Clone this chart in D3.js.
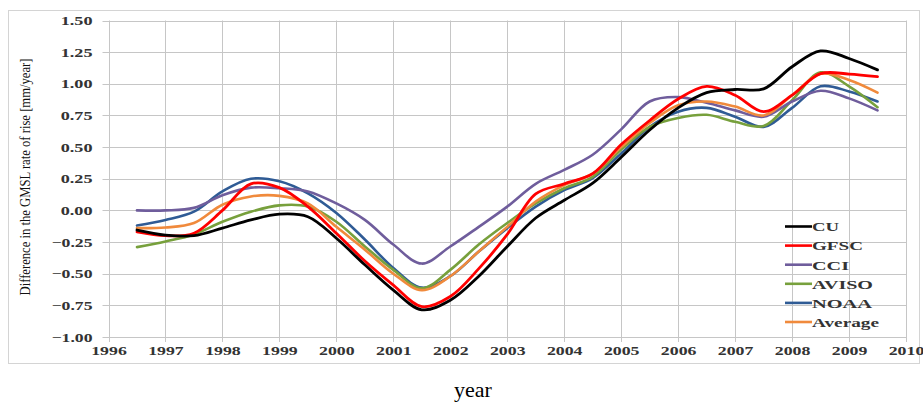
<!DOCTYPE html>
<html>
<head>
<meta charset="utf-8">
<script src="https://cdn.jsdelivr.net/npm/d3@7/dist/d3.min.js"></script>
<style>
  html, body { margin: 0; padding: 0; background: #fff; }
  svg { display: block; }
</style>
</head>
<body>
<svg id="chart" width="923" height="403"></svg>
<script>
// ---- data ----
const years = [1996.5, 1997, 1997.5, 1998, 1998.5, 1999, 1999.5, 2000, 2000.5, 2001, 2001.5, 2002, 2002.5,
  2003, 2003.5, 2004, 2004.5, 2005, 2005.5, 2006, 2006.5, 2007, 2007.5, 2008, 2008.5, 2009, 2009.5];

const seriesNames = ["CU", "GFSC", "CCI", "AVISO", "NOAA", "Average"];

const cu      = [-0.155, -0.195, -0.20, -0.14, -0.075, -0.03, -0.05, -0.22, -0.43, -0.63, -0.785, -0.71, -0.52,
  -0.285, -0.06, 0.08, 0.215, 0.42, 0.635, 0.81, 0.93, 0.955, 0.96, 1.135, 1.26, 1.20, 1.11];
const gfsc    = [-0.17, -0.20, -0.18, 0.0, 0.21, 0.18, 0.03, -0.18, -0.40, -0.59, -0.76, -0.68, -0.46,
  -0.19, 0.13, 0.21, 0.29, 0.52, 0.71, 0.88, 0.98, 0.91, 0.78, 0.91, 1.08, 1.077, 1.056];
const cci     = [0.0, 0.0, 0.02, 0.12, 0.18, 0.175, 0.15, 0.055, -0.075, -0.27, -0.42, -0.285, -0.13,
  0.03, 0.21, 0.32, 0.44, 0.64, 0.86, 0.895, 0.85, 0.79, 0.74, 0.86, 0.945, 0.885, 0.79];
const aviso   = [-0.29, -0.245, -0.19, -0.09, -0.01, 0.04, 0.03, -0.09, -0.285, -0.47, -0.615, -0.47, -0.27,
  -0.10, 0.055, 0.175, 0.265, 0.48, 0.66, 0.73, 0.755, 0.70, 0.667, 0.87, 1.09, 0.98, 0.815];
const noaa    = [-0.12, -0.075, -0.01, 0.15, 0.25, 0.23, 0.135, -0.02, -0.23, -0.455, -0.61, -0.52, -0.325,
  -0.14, 0.03, 0.16, 0.255, 0.45, 0.66, 0.78, 0.81, 0.74, 0.66, 0.81, 0.98, 0.94, 0.86];
const average = [-0.14, -0.135, -0.10, 0.045, 0.11, 0.115, 0.055, -0.13, -0.31, -0.50, -0.63, -0.52, -0.325,
  -0.13, 0.07, 0.20, 0.29, 0.50, 0.69, 0.83, 0.86, 0.82, 0.75, 0.91, 1.08, 1.03, 0.93];

const xTicks = [1996, 1997, 1998, 1999, 2000, 2001, 2002, 2003, 2004, 2005, 2006, 2007, 2008, 2009, 2010];
const yTicks = [-1.00, -0.75, -0.50, -0.25, 0.00, 0.25, 0.50, 0.75, 1.00, 1.25, 1.50];

const yTitle = "Difference in the GMSL rate of rise [mm/year]";
const xTitle = "year";

// ---- styles ----
const seriesValues = [cu, gfsc, cci, aviso, noaa, average];
const colors = ["#000000", "#ff0000", "#6f5d9c", "#77a03c", "#2f5b95", "#f08a3c"];
const widths = [2.8, 2.8, 2.6, 2.6, 2.6, 2.6];
const serif = "'Liberation Serif', 'Times New Roman', serif";

// widened glyph widths (the reference text is horizontally stretched)
function stretchedLen(s, digitW) {
  let w = 0;
  for (const c of s) {
    if (c === ".") w += digitW * 0.45;
    else if (c === "-") w += digitW * 0.75;
    else w += digitW;
  }
  return w;
}

const svg = d3.select("#chart");

// outer frame
svg.append("rect").attr("x", 8.5).attr("y", 10.5).attr("width", 911).attr("height", 353)
  .attr("fill", "#fff").attr("stroke", "#d4d4d4").attr("stroke-width", 1);

const x = d3.scaleLinear().domain([1996, 2010]).range([108.5, 906]);
const y = d3.scaleLinear().domain([-1, 1.5]).range([337, 20.5]);

// gridlines
const grid = svg.append("g");
grid.selectAll("line.h").data(yTicks).join("line")
  .attr("x1", x(1996) - 6).attr("x2", x(2010))
  .attr("y1", d => Math.round(y(d)) + 0.5).attr("y2", d => Math.round(y(d)) + 0.5)
  .attr("stroke", "#c6c6c6").attr("stroke-width", 1);
grid.selectAll("line.v").data(xTicks).join("line")
  .attr("y1", y(1.5)).attr("y2", y(-1) + 5)
  .attr("x1", d => Math.round(x(d)) + 0.5).attr("x2", d => Math.round(x(d)) + 0.5)
  .attr("stroke", "#c6c6c6").attr("stroke-width", 1);

// axis labels via d3 axes
const yAxis = d3.axisLeft(y).tickValues(yTicks).tickFormat(d3.format(".2f")).tickSize(0).tickPadding(16);
const gy = svg.append("g").attr("transform", `translate(${x(1996)},0)`).call(yAxis);
gy.select(".domain").remove();
gy.selectAll("text").attr("font-family", serif).attr("font-weight", "bold")
  .attr("font-size", 12.5).attr("fill", "#333")
  .attr("textLength", function () { return stretchedLen(this.textContent, 9.2); })
  .attr("lengthAdjust", "spacingAndGlyphs");

const xAxis = d3.axisBottom(x).tickValues(xTicks).tickFormat(d3.format("d")).tickSize(0).tickPadding(9);
const gx = svg.append("g").attr("transform", `translate(0,${y(-1)})`).call(xAxis);
gx.select(".domain").remove();
gx.selectAll("text").attr("font-family", serif).attr("font-weight", "bold")
  .attr("font-size", 12.5).attr("fill", "#333")
  .attr("textLength", function () { return stretchedLen(this.textContent, 8.9); })
  .attr("lengthAdjust", "spacingAndGlyphs");

// lines
const line = d3.line().x((d, i) => x(years[i])).y(d => y(d)).curve(d3.curveCatmullRom.alpha(0.5));
const order = [4, 3, 2, 5, 1, 0];
order.forEach(k => {
  svg.append("path").attr("d", line(seriesValues[k]))
    .attr("fill", "none").attr("stroke", colors[k]).attr("stroke-width", widths[k])
    .attr("stroke-linejoin", "round").attr("stroke-linecap", "round");
});

// legend
const legendLens = [27, 51, 37, 61, 60, 67];
const legend = svg.append("g");
seriesNames.forEach((name, i) => {
  const ly = 226.5 + i * 19.1;
  legend.append("line").attr("x1", 785).attr("x2", 812).attr("y1", ly).attr("y2", ly)
    .attr("stroke", colors[i]).attr("stroke-width", 2.6);
  legend.append("text").attr("x", 812).attr("y", ly + 4.8).text(name)
    .attr("font-family", serif).attr("font-weight", "bold").attr("font-size", 13.5).attr("fill", "#333")
    .attr("textLength", legendLens[i]).attr("lengthAdjust", "spacingAndGlyphs");
});

// titles
svg.append("text").attr("transform", "translate(30,177) rotate(-90)")
  .attr("text-anchor", "middle").attr("font-family", serif).attr("font-size", 15)
  .attr("textLength", 237).attr("lengthAdjust", "spacingAndGlyphs")
  .attr("fill", "#111").text(yTitle);

svg.append("text").attr("x", 473).attr("y", 397).attr("text-anchor", "middle")
  .attr("font-family", serif).attr("font-size", 22).attr("fill", "#000").text(xTitle);
</script>
</body>
</html>
